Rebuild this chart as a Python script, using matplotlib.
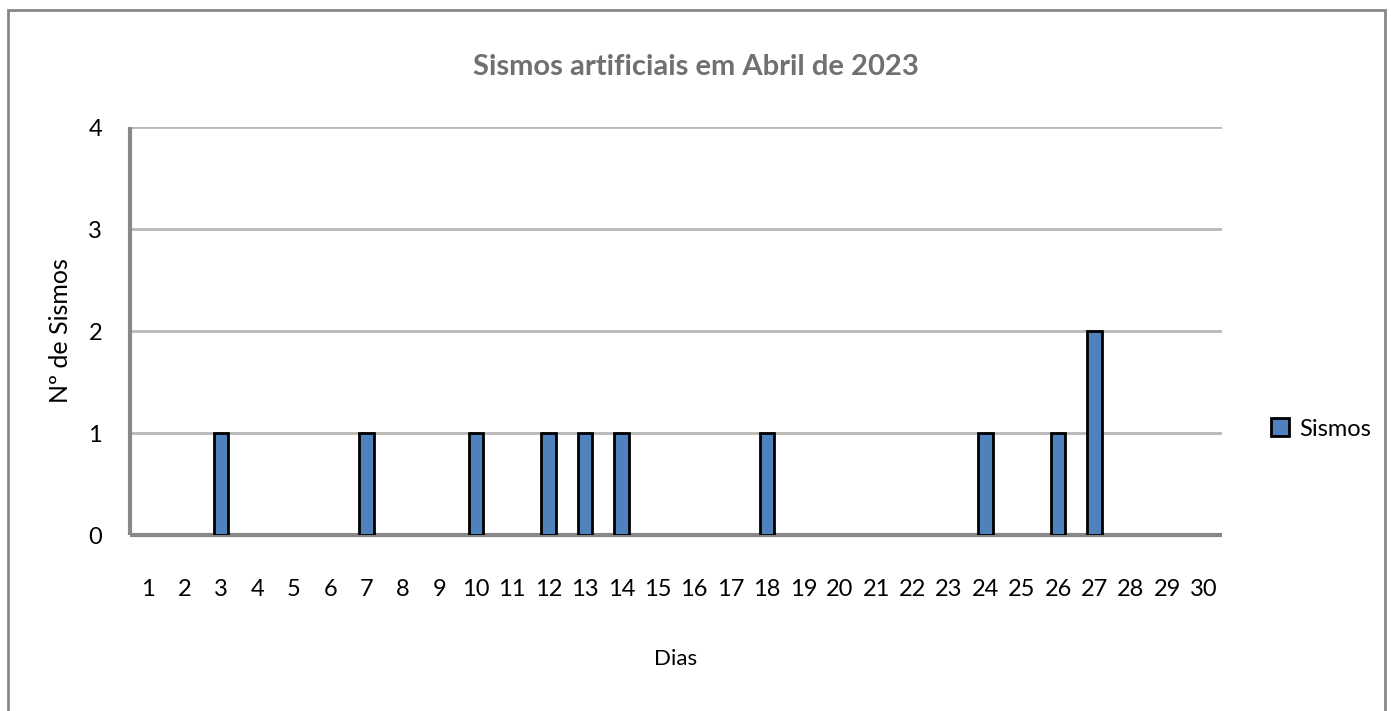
import matplotlib

matplotlib.use("Agg")
import matplotlib.pyplot as plt
from matplotlib.patches import Rectangle

days = list(range(1, 31))
sismos = [0, 0, 1, 0, 0, 0, 1, 0, 0, 1,
          0, 1, 1, 1, 0, 0, 0, 1, 0, 0,
          0, 0, 0, 1, 0, 1, 2, 0, 0, 0]
y_ticks = [0, 1, 2, 3, 4]

plt.rcParams["font.family"] = ["Lato", "DejaVu Sans"]

fig = plt.figure(figsize=(13.91, 7.11), dpi=100)
fig.patch.set_facecolor("white")

# outer chart frame
fig.add_artist(Rectangle((8 / 1391, -0.01), (1385 - 8) / 1391, 1 - 10 / 711 + 0.01,
                         transform=fig.transFigure, fill=False,
                         edgecolor="#888888", linewidth=2))

ax = fig.add_axes([130 / 1391, 1 - 535 / 711, (1222 - 130) / 1391, (535 - 127) / 711])

# zero days get no bar at all (Excel draws nothing there)
bar_days = [d for d, v in zip(days, sismos) if v > 0]
bar_vals = [v for v in sismos if v > 0]
ax.bar(bar_days, bar_vals, width=0.4, color="#4f81bd", edgecolor="black",
       linewidth=2, label="Sismos", zorder=3)

ax.set_xlim(0.5, 30.5)
ax.set_ylim(0, 4)
ax.set_yticks(y_ticks)
ax.set_xticks(days)
ax.yaxis.grid(True, color="#b8b8b8", linewidth=2, zorder=0)
ax.set_axisbelow(True)
for side in ("top", "right"):
    ax.spines[side].set_visible(False)
for side in ("left", "bottom"):
    ax.spines[side].set_color("#888888")
    ax.spines[side].set_linewidth(3)
    ax.spines[side].set_capstyle("butt")
ax.tick_params(axis="both", length=0, labelsize=17)
ax.tick_params(axis="x", pad=32)
ax.tick_params(axis="y", pad=20)

ax.set_xlabel("Dias", fontsize=16, labelpad=35)
ax.set_ylabel("Nº de Sismos", fontsize=18, labelpad=12)
fig.text(0.5, 1 - 67 / 711, "Sismos artificiais em Abril de 2023",
         ha="center", va="center", fontsize=21, fontweight="bold", color="#707070")

leg = ax.legend(loc="center left", bbox_to_anchor=(1.025, 0.26), frameon=False,
                fontsize=17, handlelength=0.8, handleheight=0.8, handletextpad=0.4)

fig.savefig("out.png", dpi=100)
